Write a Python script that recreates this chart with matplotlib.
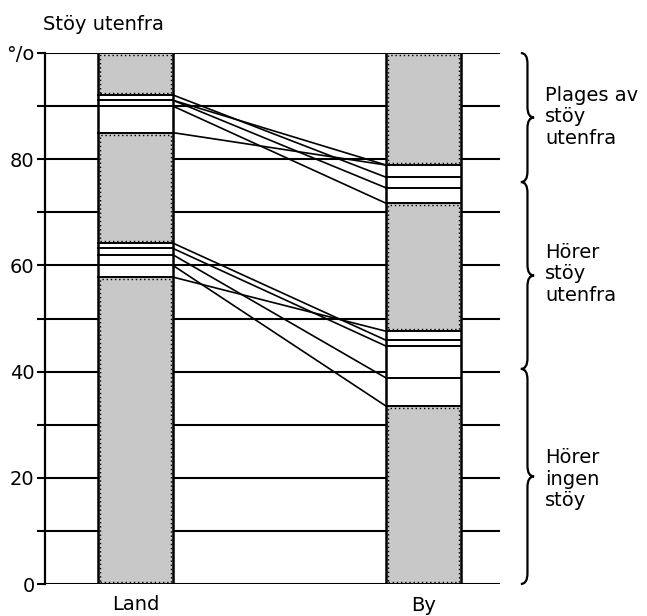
import numpy as np
import matplotlib
matplotlib.use('Agg')
import matplotlib.pyplot as plt
from matplotlib.patches import Rectangle, PathPatch
from matplotlib.path import Path

# grenser for segmentene i hver stolpe (prosent)
LAND_BOUNDS = [0, 57.8, 60.0, 62.0, 63.2, 64.2, 85.0, 90.0, 91.1, 92.1, 100]
BY_BOUNDS   = [0, 33.5, 38.8, 44.8, 45.9, 47.6, 71.7, 74.6, 76.6, 78.9, 100]
LAND_SHADED = [(0, 57.8), (64.2, 85.0), (92.1, 100)]
BY_SHADED   = [(0, 33.5), (47.6, 71.7), (78.9, 100)]

# forbindelseslinjer Land -> By
LINKS = [
    (92.1, 76.6), (91.1, 78.9), (91.1, 74.6), (90.0, 71.7), (85.0, 78.9),
    (64.2, 45.9), (63.2, 44.8), (62.0, 38.8), (60.0, 33.5), (57.8, 47.6),
]

GROUPS = [
    ('Plages av\nstöy\nutenfra', 100.0, 75.7),
    ('Hörer\nstöy\nutenfra',     75.7, 40.5),
    ('Hörer\ningen\nstöy',       40.5, 0.0),
]

CATEGORIES = ['Land', 'By']
TITLE = 'Stöy utenfra'

W = 0.26
FS = 14

fig = plt.figure(figsize=(6.47, 6.16), dpi=100)
ax = fig.add_axes([45 / 647, 32 / 616, 455 / 647, 531 / 616])
ax.set_xlim(-90.5 / 288, (455 - 90.5) / 288)
ax.set_ylim(0, 100)

# rutenett
for v in range(0, 101, 10):
    ax.axhline(v, color='black', lw=1.5, zorder=1)


def draw_bar(x, bounds, shaded):
    x0 = x - W / 2
    ax.add_patch(Rectangle((x0, 0), W, 100, facecolor='white', edgecolor='none', zorder=2))
    for lo, hi in shaded:
        ax.add_patch(Rectangle((x0, lo), W, hi - lo, facecolor='#c8c8c8',
                               edgecolor='none', zorder=3))
        ax.add_patch(Rectangle((x0 + 0.008, lo + 0.4), W - 0.016, hi - lo - 0.8,
                               facecolor='none', edgecolor='black', lw=1.0,
                               linestyle=(0, (1, 2)), zorder=4))
    for b in bounds:
        ax.plot([x0, x0 + W], [b, b], color='black', lw=1.4, zorder=5)
    ax.plot([x0, x0], [0, 100], color='black', lw=1.8, zorder=5)
    ax.plot([x0 + W, x0 + W], [0, 100], color='black', lw=1.8, zorder=5)


draw_bar(0, LAND_BOUNDS, LAND_SHADED)
draw_bar(1, BY_BOUNDS, BY_SHADED)

for a, b in LINKS:
    ax.plot([W / 2, 1 - W / 2], [a, b], color='black', lw=1.2, zorder=6)


def brace(x0, ytop, ybot, w=0.046, r=2.0):
    x1 = x0 + w / 2
    x2 = x0 + w
    ym = (ytop + ybot) / 2
    verts = [(x0, ytop), (x1, ytop), (x1, ytop - r),
             (x1, ym + r),
             (x1, ym), (x2, ym),
             (x1, ym), (x1, ym - r),
             (x1, ybot + r),
             (x1, ybot), (x0, ybot)]
    codes = [Path.MOVETO, Path.CURVE3, Path.CURVE3,
             Path.LINETO,
             Path.CURVE3, Path.CURVE3,
             Path.CURVE3, Path.CURVE3,
             Path.LINETO,
             Path.CURVE3, Path.CURVE3]
    ax.add_patch(PathPatch(Path(verts, codes), facecolor='none', edgecolor='black',
                           lw=1.6, clip_on=False, zorder=6))


label_y = [93.8, 64.3, 25.6]
for (txt, top, bot), ly in zip(GROUPS, label_y):
    brace(1.338, top, bot)
    ax.text(1.422, ly, txt, fontsize=FS, va='top', ha='left', linespacing=1.17,
            clip_on=False)

# akser
for s in ['top', 'right', 'bottom']:
    ax.spines[s].set_visible(False)
ax.spines['left'].set_linewidth(1.6)
ax.set_xticks([])
ax.set_yticks(range(0, 101, 20))
ax.set_yticklabels(['0', '20', '40', '60', '80', '°/o'], fontsize=FS)
ax.set_yticks(range(10, 100, 20), minor=True)
ax.tick_params(axis='y', which='both', length=6, width=1.5, pad=1.5)

ax.text(0, -3.9, CATEGORIES[0], ha='center', va='center', fontsize=FS, clip_on=False)
ax.text(1, -4.1, CATEGORIES[1], ha='center', va='center', fontsize=FS, clip_on=False)
fig.text(43 / 647, 1 - 25 / 616, TITLE, ha='left', va='center', fontsize=FS)

fig.savefig('out.png', dpi=100)
